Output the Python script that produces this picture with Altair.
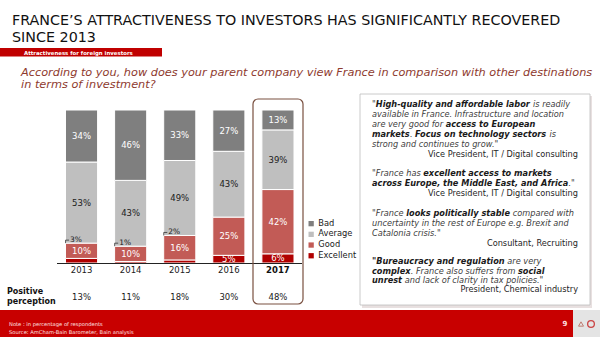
import altair as alt
import pandas as pd

# ---------------- data ----------------
years = ["2013", "2014", "2015", "2016", "2017"]
excellent = [3, 1, 2, 5, 6]
good = [10, 10, 16, 25, 42]
average = [53, 43, 49, 43, 39]
bad = [34, 46, 33, 27, 13]
positive = [13, 11, 18, 30, 48]
stack_order = ["Excellent", "Good", "Average", "Bad"]      # bottom -> top
legend_order = ["Bad", "Average", "Good", "Excellent"]
legend_colors = ["#7f7f7f", "#bfbfbf", "#c25b56", "#b00000"]
highlight_year = "2017"

FONT = "DejaVu Sans"

rows = []
series = dict(Excellent=excellent, Good=good, Average=average, Bad=bad)
for i, yr in enumerate(years):
    base = 0
    for cat in stack_order:
        v = series[cat][i]
        rows.append(dict(year=yr, cat=cat, value=v, y0=base, y1=base + v,
                         mid=base + v / 2, label=f"{v}%",
                         inside=not (cat == "Excellent" and v < 5),
                         tcolor="#1a1a1a" if cat == "Average" else "#ffffff"))
        base += v
df = pd.DataFrame(rows)
df_in = df[df.inside]
df_out = pd.DataFrame([dict(year=years[i], top=excellent[i] + good[i], label=f"{excellent[i]}%")
                       for i in range(len(years)) if excellent[i] < 5])
df_pos = pd.DataFrame(dict(year=years, label=[f"{p}%" for p in positive]))

xs = alt.Scale(domain=years, range=[57, 302.5], paddingInner=0.346, paddingOuter=0.173)
ys = alt.Scale(domain=[0, 100], range=[263, 110])
X = alt.X("year:N", scale=xs, axis=None)

one = pd.DataFrame({"a": [0]})


def rect(x, x2, y, y2, **kw):
    return alt.Chart(one).mark_rect(**kw).encode(
        x=alt.value(x), x2=alt.value(x2), y=alt.value(y), y2=alt.value(y2))


def texts(items, **kw):
    d = pd.DataFrame(items, columns=["x", "y", "t"])
    kw.setdefault("font", FONT)
    kw.setdefault("baseline", "middle")
    kw.setdefault("align", "left")
    return alt.Chart(d).mark_text(**kw).encode(
        x=alt.X("x:Q", scale=None, axis=None),
        y=alt.Y("y:Q", scale=None, axis=None),
        text="t:N")


# ---------------- header ----------------
title = texts([(12, 25, "FRANCE’S ATTRACTIVENESS TO INVESTORS HAS SIGNIFICANTLY RECOVERED"),
               (12, 42, "SINCE 2013")], fontSize=14.3, color="#111111", baseline="alphabetic")
banner = rect(0, 162, 48, 56.5, color="#c00000")
banner_txt = texts([(24, 52.5, "Attractiveness for foreign investors")],
                   fontSize=5.4, fontWeight="bold", color="#ffffff")
question = texts([(21, 76, "According to you, how does your parent company view France in comparison with other destinations"),
                  (21, 88, "in terms of investment?")],
                 fontSize=11.3, fontStyle="italic", color="#8e3a2e", baseline="alphabetic")

# ---------------- bars ----------------
bars = alt.Chart(df).mark_bar(stroke="white", strokeWidth=1).encode(
    x=X,
    y=alt.Y("y0:Q", scale=ys, axis=None), y2="y1",
    color=alt.Color("cat:N", scale=alt.Scale(domain=legend_order, range=legend_colors),
                    legend=alt.Legend(orient="none", legendX=307, legendY=219.5, title=None,
                                      symbolType="square", symbolSize=28, symbolStrokeWidth=0,
                                      labelFontSize=8.3, labelFont=FONT, labelColor="#1a1a1a",
                                      rowPadding=1.7, labelOffset=3, padding=0)))
seg_labels = alt.Chart(df_in).mark_text(font=FONT, fontSize=8.5).encode(
    x=X, y=alt.Y("mid:Q", scale=ys, axis=None), text="label:N",
    color=alt.Color("tcolor:N", scale=None))
out_labels = alt.Chart(df_out).mark_text(font=FONT, fontSize=7.5, align="left", dx=-11.5, dy=-3,
                                         color="#1a1a1a").encode(
    x=X, y=alt.Y("top:Q", scale=ys, axis=None), text="label:N")
lead_h = alt.Chart(df_out).mark_rule(color="#333333", strokeWidth=0.8, xOffset=-16, x2Offset=-12.5,
                                     yOffset=-3).encode(
    x=X, x2="year:N", y=alt.Y("top:Q", scale=ys, axis=None))
lead_v = alt.Chart(df_out).mark_rule(color="#333333", strokeWidth=0.8, xOffset=-16,
                                     yOffset=-3).encode(
    x=X, y=alt.Y("top:Q", scale=ys, axis=None), y2="top:Q")
baseline = alt.Chart(one).mark_rule(color="#222222", strokeWidth=1).encode(
    x=alt.value(57), x2=alt.value(302), y=alt.value(263.5))
year_reg = alt.Chart(df_pos).transform_filter(alt.datum.year != highlight_year).mark_text(
    font=FONT, fontSize=8.5, color="#1a1a1a").encode(x=X, y=alt.value(270), text="year:N")
year_bold = alt.Chart(df_pos).transform_filter(alt.datum.year == highlight_year).mark_text(
    font=FONT, fontSize=8.5, fontWeight="bold", color="#111111").encode(
    x=X, y=alt.value(270), text="year:N")
pos_labels = alt.Chart(df_pos).mark_text(font=FONT, fontSize=8.5, color="#1a1a1a").encode(
    x=X, y=alt.value(297), text="label:N")
pos_title = texts([(7, 292, "Positive"), (7, 302, "perception")],
                  fontSize=8, fontWeight="bold", color="#111111")
frame = rect(253, 303, 99, 304, filled=False, stroke="#7a5040", strokeWidth=1.2,
             cornerRadius=5)

# ---------------- quote box ----------------
shadow = rect(362, 592, 96, 308, color="#e8e0e0")
box = rect(360, 590, 94, 305, fill="#ffffff", stroke="#bdbdbd", strokeWidth=0.8)
QS = 8.2
italic_items = [
    (372, 105, "\""), (533.0, 105, "is readily"),
    (372, 115, "available in France. Infrastructure and location"),
    (372, 125, "are very good for"),
    (409.9, 135, "."), (549.6, 135, "is"),
    (372, 145, "strong and continues to grow.\""),
    (372, 174, "\"France has"),
    (568.5, 184, ".\""),
    (372, 214, "\"France"), (512.7, 214, "compared with"),
    (372, 224, "uncertainty in the rest of Europe e.g. Brexit and"),
    (372, 234, "Catalonia crisis.\""),
    (507.3, 262, "are very"),
    (410.7, 272, ". France also suffers from"),
    (404.7, 281, "and lack of clarity in tax policies.\""),
]
bold_items = [
    (375.8, 105, "High-quality and affordable labor"),
    (445.7, 125, "access to European"),
    (372, 135, "markets"), (415.1, 135, "Focus on technology sectors"),
    (423.3, 174, "excellent access to markets"),
    (372, 184, "across Europe, the Middle East, and Africa"),
    (406.2, 214, "looks politically stable"),
    (372, 262, "\"Bureaucracy and regulation"),
    (372, 272, "complex"), (518, 272, "social"),
    (372, 281, "unrest"),
]
attr_items = [
    (578, 155, "Vice President, IT / Digital consulting"),
    (578, 194, "Vice President, IT / Digital consulting"),
    (578, 244, "Consultant, Recruiting"),
    (578, 290, "President, Chemical industry"),
]
q_it = texts(italic_items, fontSize=QS, fontStyle="italic", color="#404040")
q_bd = texts(bold_items, fontSize=QS, fontStyle="italic", fontWeight="bold", color="#1a1a1a")
q_at = texts(attr_items, fontSize=QS, color="#262626", align="right")

# ---------------- footer ----------------
footer = rect(0, 573, 310, 337, color="#c80000")
footer_grey = rect(573, 600, 310, 337, color="#e4e4e4")
foot_txt = texts([(9, 324, "Note : in percentage of respondents"),
                  (9, 331.5, "Source: AmCham-Bain Barometer, Bain analysis")],
                 fontSize=5.2, color="#ffe0e0")
page_no = texts([(565, 324, "9")], fontSize=7, fontWeight="bold", color="#ffe0e0", align="center")
icon = alt.Chart(one).mark_point(shape="circle", size=45, filled=False, color="#c00000",
                                 strokeWidth=1.3).encode(x=alt.value(591), y=alt.value(324))
icon2 = alt.Chart(one).mark_point(shape="triangle-up", size=25, filled=False, color="#b05040",
                                  strokeWidth=1).encode(x=alt.value(581), y=alt.value(324))

chart = alt.layer(
    title, banner, banner_txt, question,
    bars, seg_labels, out_labels, lead_h, lead_v, baseline, year_reg, year_bold, pos_labels,
    pos_title, frame,
    shadow, box, q_it, q_bd, q_at,
    footer, footer_grey, foot_txt, page_no, icon, icon2,
).resolve_scale(x="independent", y="independent", color="independent").properties(
    width=600, height=337, padding=0, autosize=alt.AutoSizeParams(type="none"),
    background="#ffffff"
).configure_view(stroke=None)

chart.save("out.html", embed_options={"renderer": "svg", "actions": False})
